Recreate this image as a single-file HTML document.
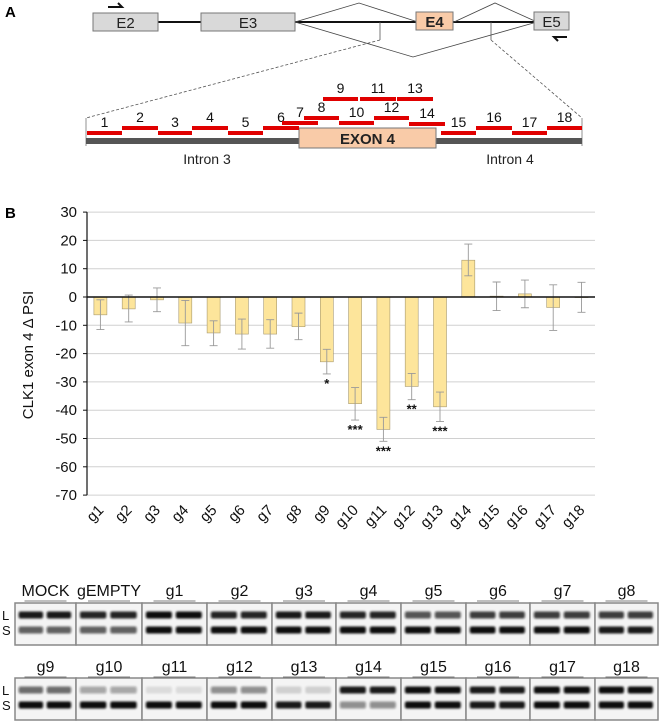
<!DOCTYPE html>
<html><head><meta charset="utf-8"><style>
body{margin:0;background:#fff}
svg{display:block;font-family:"Liberation Sans",Arial,sans-serif}
</style></head><body>
<svg id="fig" width="662" height="722" viewBox="0 0 662 722">
<defs><filter id="bl" x="-20%" y="-100%" width="140%" height="300%"><feGaussianBlur stdDeviation="1.1"/></filter></defs>
<!-- Panel A -->
<g>
<text x="5" y="17" font-size="15" font-weight="bold">A</text>
<line x1="158" y1="22" x2="537" y2="22" stroke="#111" stroke-width="2"/>
<polyline points="295,22 359,3 418,22" fill="none" stroke="#444" stroke-width="0.8"/>
<polyline points="454,22 495,3 537,22" fill="none" stroke="#444" stroke-width="0.8"/>
<polyline points="295,22 413,57 537,22" fill="none" stroke="#444" stroke-width="0.8"/>
<rect x="93" y="13" width="65" height="18" fill="#d9d9d9" stroke="#777"/>
<text x="125.5" y="28" font-size="15" text-anchor="middle" fill="#222">E2</text>
<rect x="201" y="13" width="94" height="18" fill="#d9d9d9" stroke="#777"/>
<text x="248" y="28" font-size="15" text-anchor="middle" fill="#222">E3</text>
<rect x="416" y="12" width="37" height="18" fill="#f9cba8" stroke="#777"/>
<text x="434.5" y="27" font-size="15" font-weight="bold" text-anchor="middle" fill="#222">E4</text>
<rect x="534" y="12" width="35" height="18" fill="#d9d9d9" stroke="#777"/>
<text x="551.5" y="27" font-size="15" text-anchor="middle" fill="#222">E5</text>
<path d="M108,7 L122,7 L118,3" fill="none" stroke="#111" stroke-width="2"/>
<path d="M567,37 L554,37 L558,41" fill="none" stroke="#111" stroke-width="2"/>
<line x1="380" y1="22" x2="380" y2="40" stroke="#555" stroke-width="0.8"/>
<line x1="380" y1="40" x2="86" y2="118" stroke="#555" stroke-width="0.8" stroke-dasharray="3,2"/>
<line x1="491" y1="22" x2="491" y2="40" stroke="#555" stroke-width="0.8"/>
<line x1="491" y1="40" x2="582" y2="118" stroke="#555" stroke-width="0.8" stroke-dasharray="3,2"/>
<line x1="86" y1="118" x2="86" y2="146" stroke="#777" stroke-width="0.8"/>
<line x1="582" y1="118" x2="582" y2="146" stroke="#777" stroke-width="0.8"/>
<rect x="86" y="138" width="496" height="6" fill="#555"/>
<rect x="299" y="128" width="137" height="20" fill="#f9cba8" stroke="#777"/>
<text x="367.5" y="144" font-size="15" font-weight="bold" text-anchor="middle" fill="#222">EXON 4</text>
<text x="207" y="164" font-size="14" text-anchor="middle" fill="#222">Intron 3</text>
<text x="510" y="164" font-size="14" text-anchor="middle" fill="#222">Intron 4</text>
<g id="guides"></g>
</g>
<!-- Panel B chart -->
<g id="chart">
<text x="5" y="218" font-size="15" font-weight="bold">B</text>
<text transform="translate(33,355) rotate(-90)" font-size="15" text-anchor="middle" fill="#111">CLK1 exon 4 Δ PSI</text>
</g>
<!-- Gels -->
<g id="gels"></g>
</svg>
<script>
var NS="http://www.w3.org/2000/svg";
function mk(t,a,p){var e=document.createElementNS(NS,t);for(var k in a)e.setAttribute(k,a[k]);p.appendChild(e);return e;}
// guide RNAs
var guideX0=[87,122,158,192,228,263,282,304,323,339,360,374,397,409,441,476,512,547];
var guideX1=[122,158,192,228,263,299,318,339,358,374,396,409,433,445,476,512,547,582];
var guideY=[133,128,133,128,133,128,123,118,99,123,99,118,99,124,133,128,133,128];
var gg=document.getElementById('guides');
for(var i=0;i<18;i++){
  var r=mk('rect',{x:guideX0[i],y:guideY[i]-2,width:guideX1[i]-guideX0[i],height:4,fill:'#e00000'},gg);
  
  
  var t=mk('text',{x:(guideX0[i]+guideX1[i])/2,y:guideY[i]-6,'font-size':14,'text-anchor':'middle',fill:'#111'},gg);
  t.textContent=String(i+1);
}
// chart data
var categories=["g1","g2","g3","g4","g5","g6","g7","g8","g9","g10","g11","g12","g13","g14","g15","g16","g17","g18"];
var values=[-6.3,-4.2,-1,-9.2,-12.7,-13.1,-13.1,-10.5,-22.9,-37.7,-46.8,-31.6,-38.8,13,0.3,1.1,-3.7,-0.2];
var errLow=[-11.5,-8.8,-5.2,-17.2,-17.2,-18.4,-18.1,-15.1,-27.2,-43.5,-51,-36.3,-44,7.5,-4.8,-3.8,-11.8,-5.4];
var errHigh=[-1,0.7,3.2,-1.2,-8.4,-7.8,-8,-5.7,-18.5,-32,-42.5,-27,-33.6,18.7,5.3,6,4.3,5.2];
var stars=["","","","","","","","","*","***","***","**","***","","","","",""];
var yTicks=[30,20,10,0,-10,-20,-30,-40,-50,-60,-70];
function yS(v){return 297-v*2.83;}
function xS(i){return 100.4+i*28.3;}
var ch=document.getElementById('chart');
yTicks.forEach(function(v){
  if(v!==0){var l=mk('line',{x1:87,x2:595,y1:yS(v),y2:yS(v),stroke:'#d0d0d0','stroke-width':1},ch);
  }
  mk('line',{x1:83,x2:87,y1:yS(v),y2:yS(v),stroke:'#111'},ch);
  var t=mk('text',{x:77,y:yS(v)+5,'font-size':15,'text-anchor':'end',fill:'#111'},ch);
  
  t.textContent=String(v);
});
mk('line',{x1:87,x2:87,y1:yS(30),y2:yS(-70),stroke:'#111','stroke-width':1.2},ch);
for(var i=0;i<categories.length;i++){
  var cx=xS(i),v=values[i];
  var b=mk('rect',{x:cx-6.5,y:Math.min(yS(v),yS(0)),width:13,height:Math.abs(yS(v)-yS(0)),fill:'#fde59b',stroke:'#a89a70','stroke-width':0.6},ch);
  
  
  var e=mk('path',{d:'M'+(cx-4)+','+yS(errHigh[i])+'h8M'+cx+','+yS(errHigh[i])+'V'+yS(errLow[i])+'M'+(cx-4)+','+yS(errLow[i])+'h8',stroke:'#999','stroke-width':0.9,fill:'none'},ch);
  
  
  if(stars[i]){var s=mk('text',{x:cx,y:yS(errLow[i])+14,'font-size':13,'font-weight':'bold','text-anchor':'middle',fill:'#111'},ch);
    
    
    s.textContent=stars[i];}
  var xl=mk('text',{transform:'translate('+(cx+4)+',511) rotate(-45)','font-size':15,'text-anchor':'end',fill:'#111'},ch);
  
  
  xl.textContent=categories[i];
}
mk('line',{x1:87,x2:595,y1:yS(0),y2:yS(0),stroke:'#111','stroke-width':1.5},ch);
// gels
var gl=document.getElementById('gels');
var boxEdges=[15,76,142,207,272,336,401,466,530,595,658];
var row1Labels=["MOCK","gEMPTY","g1","g2","g3","g4","g5","g6","g7","g8"];
var row2Labels=["g9","g10","g11","g12","g13","g14","g15","g16","g17","g18"];
var row1L=[.95,.9,1,.9,.95,.9,.7,.8,.8,.8];
var row1S=[.65,.65,1,1,1,1,1,1,1,.95];
var row2L=[.6,.35,.1,.45,.15,.95,1,.95,1,1];
var row2S=[1,1,1,1,.95,.45,1,.95,1,1];
function gelRow(labels,Ls,Ss,top,h,ly,yL,yS2){
  mk('text',{x:2,y:yL+5,'font-size':13,fill:'#111'},gl).textContent='L';
  mk('text',{x:2,y:yS2+5,'font-size':13,fill:'#111'},gl).textContent='S';
  for(var j=0;j<10;j++){
    var x0=boxEdges[j],x1=boxEdges[j+1],w=x1-x0,c=(x0+x1)/2;
    var bx=mk('rect',{x:x0,y:top,width:w,height:h,fill:'#f4f4f4',stroke:'#888','stroke-width':1.5},gl);
    
    
    [x0+w*0.26,x0+w*0.72].forEach(function(lx){
      mk('rect',{x:lx-w*0.2,y:yL-3.5,width:w*0.4,height:7,rx:2,fill:'#111','fill-opacity':Ls[j],filter:'url(#bl)'},gl);
      mk('rect',{x:lx-w*0.2,y:yS2-3.5,width:w*0.4,height:7,rx:2,fill:'#111','fill-opacity':Ss[j],filter:'url(#bl)'},gl);
    });
    var t=mk('text',{x:c,y:ly,'font-size':16,'text-anchor':'middle',fill:'#111'},gl);
    
    
    t.textContent=labels[j];
    mk('line',{x1:c-21,x2:c+21,y1:ly+5,y2:ly+5,stroke:'#555','stroke-width':0.8},gl);
  }
}
gelRow(row1Labels,row1L,row1S,603,42,596,615,630);
gelRow(row2Labels,row2L,row2S,678,42,672,690,705);
</script>
</body></html>
